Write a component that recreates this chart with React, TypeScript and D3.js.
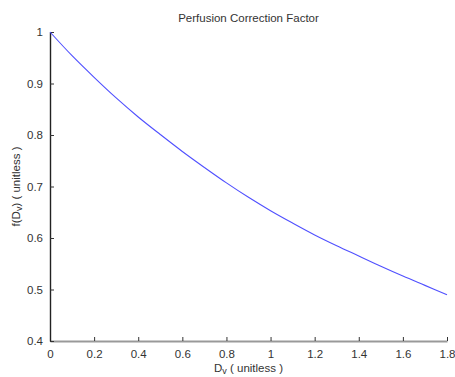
import { useRef, useEffect } from 'react';
import * as d3 from 'd3';

// values
const DV = [0, 0.1, 0.2, 0.3, 0.4, 0.5, 0.6, 0.7, 0.8, 0.9, 1.0, 1.1, 1.2, 1.3, 1.4, 1.5, 1.6, 1.7, 1.8];
const F_DV = [1.0, 0.954, 0.912, 0.872, 0.835, 0.801, 0.768, 0.737, 0.707, 0.679, 0.653, 0.629, 0.606, 0.585, 0.565, 0.545, 0.526, 0.508, 0.49];
const X_TICKS = [0, 0.2, 0.4, 0.6, 0.8, 1, 1.2, 1.4, 1.6, 1.8];
const Y_TICKS = [0.4, 0.5, 0.6, 0.7, 0.8, 0.9, 1];
const TITLE = 'Perfusion Correction Factor';

export default function App() {
  const ref = useRef<SVGSVGElement>(null);

  useEffect(() => {
    const W = 455, H = 377;
    const m = { top: 32, right: 8, bottom: 36, left: 50 };
    const iw = W - m.left - m.right;
    const ih = H - m.top - m.bottom;
    const font = '"Liberation Sans", Arial, sans-serif';
    const tc = '#333';

    const svg = d3.select(ref.current);
    svg.selectAll('*').remove();

    const x = d3.scaleLinear().domain([0, 1.8]).range([0, iw]);
    const y = d3.scaleLinear().domain([0.4, 1]).range([ih, 0]);

    const g = svg.append('g').attr('transform', `translate(${m.left},${m.top})`);

    // x axis (ticks inward)
    const xa = g.append('g').attr('transform', `translate(0,${ih})`)
      .call(d3.axisBottom(x).tickValues(X_TICKS).tickSizeInner(-4).tickSizeOuter(0).tickPadding(9)
        .tickFormat(d => d3.format('~g')(d as number)));
    xa.select('.domain').attr('stroke', '#999').attr('stroke-width', 2);
    xa.selectAll('line').attr('stroke', '#333');
    xa.selectAll('text').attr('fill', tc).style('font-family', font).style('font-size', '11.5px');

    // y axis (ticks inward)
    const ya = g.append('g')
      .call(d3.axisLeft(y).tickValues(Y_TICKS).tickSizeInner(-4).tickSizeOuter(0).tickPadding(7)
        .tickFormat(d => d3.format('~g')(d as number)));
    ya.select('.domain').attr('stroke', '#222').attr('stroke-width', 1.4);
    ya.selectAll('line').attr('stroke', '#333');
    ya.selectAll('text').attr('fill', tc).style('font-family', font).style('font-size', '11.5px');

    // curve
    const line = d3.line<number>()
      .x((_, i) => x(DV[i]))
      .y(d => y(d))
      .curve(d3.curveCatmullRom);
    g.append('path')
      .datum(F_DV)
      .attr('d', line)
      .attr('fill', 'none')
      .attr('stroke', '#5050ff')
      .attr('stroke-width', 1.1);

    // title
    svg.append('text')
      .attr('x', m.left + iw / 2).attr('y', 22)
      .attr('text-anchor', 'middle').attr('fill', tc)
      .style('font-family', font).style('font-size', '11.5px')
      .text(TITLE);

    // x label
    const xl = svg.append('text')
      .attr('x', m.left + iw / 2).attr('y', 372)
      .attr('text-anchor', 'middle').attr('fill', tc)
      .style('font-family', font).style('font-size', '11.5px');
    xl.append('tspan').text('D');
    xl.append('tspan').attr('dy', 1.5).style('font-size', '9px').text('v');
    xl.append('tspan').attr('dy', -1.5).text(' ( unitless )');

    // y label
    const yl = svg.append('text')
      .attr('transform', `translate(20,${m.top + ih / 2}) rotate(-90)`)
      .attr('text-anchor', 'middle').attr('fill', tc)
      .style('font-family', font).style('font-size', '11.5px');
    yl.append('tspan').text('f(D');
    yl.append('tspan').attr('dy', 1.5).style('font-size', '9px').text('v');
    yl.append('tspan').attr('dy', -1.5).text(') ( unitless )');
  }, []);

  return (
    <svg ref={ref} width={455} height={377}
      style={{ position: 'fixed', left: 0, top: 0, background: '#fff' }} />
  );
}
